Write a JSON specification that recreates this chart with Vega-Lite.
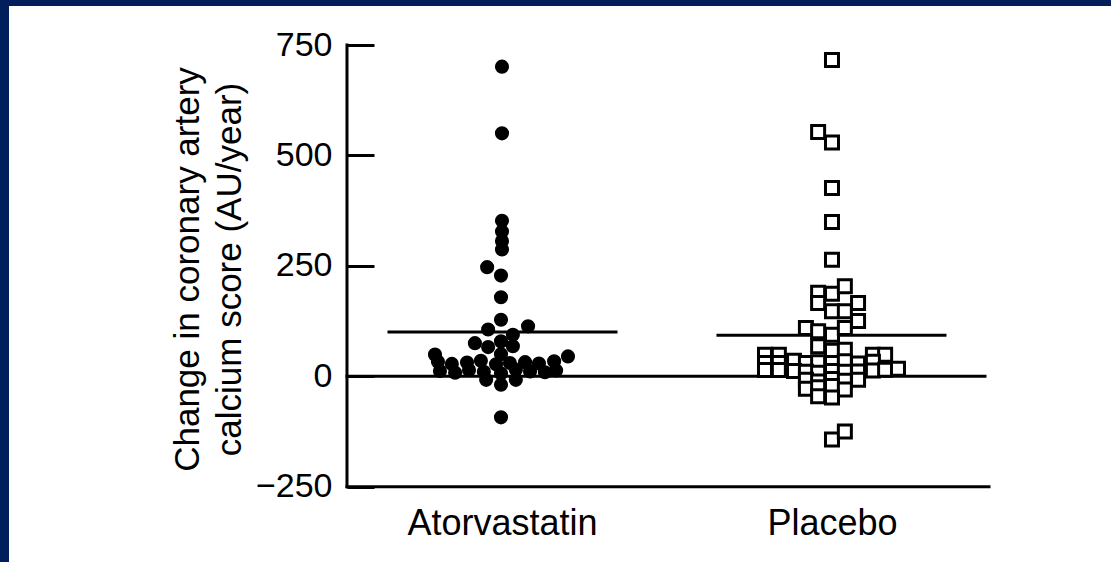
{
  "$schema": "https://vega.github.io/schema/vega-lite/v6.json",
  "width": 1102,
  "height": 556,
  "autosize": {"type": "none"},
  "padding": {"left": 9, "top": 6, "right": 0, "bottom": 0},
  "background": "#001f5b",
  "config": {"view": {"fill": "white", "stroke": null}, "font": "Liberation Sans"},
  "datasets": {
    "points": [
      {"group": "Atorvastatin", "x": 1.0, "value": 701},
      {"group": "Atorvastatin", "x": 1.0, "value": 550},
      {"group": "Atorvastatin", "x": 1.0, "value": 352},
      {"group": "Atorvastatin", "x": 1.0, "value": 328},
      {"group": "Atorvastatin", "x": 1.0, "value": 306},
      {"group": "Atorvastatin", "x": 1.0, "value": 287},
      {"group": "Atorvastatin", "x": 0.955, "value": 247},
      {"group": "Atorvastatin", "x": 0.997, "value": 228},
      {"group": "Atorvastatin", "x": 0.997, "value": 179},
      {"group": "Atorvastatin", "x": 0.997, "value": 128},
      {"group": "Atorvastatin", "x": 1.079, "value": 113},
      {"group": "Atorvastatin", "x": 0.958, "value": 106},
      {"group": "Atorvastatin", "x": 1.033, "value": 94},
      {"group": "Atorvastatin", "x": 0.918, "value": 75},
      {"group": "Atorvastatin", "x": 0.997, "value": 79},
      {"group": "Atorvastatin", "x": 0.958, "value": 66},
      {"group": "Atorvastatin", "x": 1.033, "value": 68},
      {"group": "Atorvastatin", "x": 0.997, "value": 50},
      {"group": "Atorvastatin", "x": 0.797, "value": 49},
      {"group": "Atorvastatin", "x": 1.2, "value": 45},
      {"group": "Atorvastatin", "x": 0.806, "value": 33},
      {"group": "Atorvastatin", "x": 0.848, "value": 28},
      {"group": "Atorvastatin", "x": 0.894, "value": 31},
      {"group": "Atorvastatin", "x": 0.936, "value": 35},
      {"group": "Atorvastatin", "x": 0.982, "value": 27},
      {"group": "Atorvastatin", "x": 1.024, "value": 30},
      {"group": "Atorvastatin", "x": 1.07, "value": 32},
      {"group": "Atorvastatin", "x": 1.112, "value": 29},
      {"group": "Atorvastatin", "x": 1.158, "value": 34},
      {"group": "Atorvastatin", "x": 0.812, "value": 12},
      {"group": "Atorvastatin", "x": 0.858, "value": 8},
      {"group": "Atorvastatin", "x": 0.9, "value": 14},
      {"group": "Atorvastatin", "x": 0.945, "value": 10},
      {"group": "Atorvastatin", "x": 0.997, "value": 6},
      {"group": "Atorvastatin", "x": 1.042, "value": 15},
      {"group": "Atorvastatin", "x": 1.085, "value": 11},
      {"group": "Atorvastatin", "x": 1.13, "value": 9},
      {"group": "Atorvastatin", "x": 1.164, "value": 13},
      {"group": "Atorvastatin", "x": 0.952, "value": -8},
      {"group": "Atorvastatin", "x": 1.042, "value": -8},
      {"group": "Atorvastatin", "x": 0.997, "value": -19},
      {"group": "Atorvastatin", "x": 0.997, "value": -93},
      {"group": "Placebo", "x": 2.0, "value": 716},
      {"group": "Placebo", "x": 1.958, "value": 553},
      {"group": "Placebo", "x": 2.0, "value": 529},
      {"group": "Placebo", "x": 2.0, "value": 426},
      {"group": "Placebo", "x": 2.0, "value": 349},
      {"group": "Placebo", "x": 2.0, "value": 264},
      {"group": "Placebo", "x": 1.958, "value": 189},
      {"group": "Placebo", "x": 2.0, "value": 187},
      {"group": "Placebo", "x": 2.039, "value": 204},
      {"group": "Placebo", "x": 1.958, "value": 166},
      {"group": "Placebo", "x": 2.079, "value": 166},
      {"group": "Placebo", "x": 2.0, "value": 147},
      {"group": "Placebo", "x": 2.039, "value": 147},
      {"group": "Placebo", "x": 2.079, "value": 125},
      {"group": "Placebo", "x": 1.921, "value": 109},
      {"group": "Placebo", "x": 1.958, "value": 102},
      {"group": "Placebo", "x": 2.0, "value": 94},
      {"group": "Placebo", "x": 2.039, "value": 109},
      {"group": "Placebo", "x": 1.958, "value": 68},
      {"group": "Placebo", "x": 2.0, "value": 58},
      {"group": "Placebo", "x": 2.039, "value": 60},
      {"group": "Placebo", "x": 1.797, "value": 49},
      {"group": "Placebo", "x": 1.839, "value": 49},
      {"group": "Placebo", "x": 2.124, "value": 49},
      {"group": "Placebo", "x": 2.161, "value": 49},
      {"group": "Placebo", "x": 1.797, "value": 30},
      {"group": "Placebo", "x": 1.839, "value": 30},
      {"group": "Placebo", "x": 1.885, "value": 35},
      {"group": "Placebo", "x": 1.921, "value": 30},
      {"group": "Placebo", "x": 1.958, "value": 32},
      {"group": "Placebo", "x": 2.0, "value": 30},
      {"group": "Placebo", "x": 2.039, "value": 34},
      {"group": "Placebo", "x": 2.079, "value": 29},
      {"group": "Placebo", "x": 2.124, "value": 33},
      {"group": "Placebo", "x": 1.797, "value": 14},
      {"group": "Placebo", "x": 1.839, "value": 14},
      {"group": "Placebo", "x": 1.885, "value": 12},
      {"group": "Placebo", "x": 1.921, "value": 10},
      {"group": "Placebo", "x": 1.958, "value": 8},
      {"group": "Placebo", "x": 2.0, "value": 12},
      {"group": "Placebo", "x": 2.039, "value": 10},
      {"group": "Placebo", "x": 2.079, "value": 11},
      {"group": "Placebo", "x": 2.124, "value": 13},
      {"group": "Placebo", "x": 2.161, "value": 15},
      {"group": "Placebo", "x": 2.2, "value": 17},
      {"group": "Placebo", "x": 1.921, "value": -8},
      {"group": "Placebo", "x": 1.958, "value": -12},
      {"group": "Placebo", "x": 2.0, "value": -6},
      {"group": "Placebo", "x": 2.039, "value": -10},
      {"group": "Placebo", "x": 2.079, "value": -8},
      {"group": "Placebo", "x": 1.921, "value": -28},
      {"group": "Placebo", "x": 1.958, "value": -25},
      {"group": "Placebo", "x": 2.0, "value": -22},
      {"group": "Placebo", "x": 2.039, "value": -30},
      {"group": "Placebo", "x": 1.958, "value": -45},
      {"group": "Placebo", "x": 2.0, "value": -48},
      {"group": "Placebo", "x": 2.0, "value": -143},
      {"group": "Placebo", "x": 2.039, "value": -125}
    ],
    "segments": [
      {"name": "y axis", "x": 0.5303, "x2": 0.5303, "y": -250, "y2": 750},
      {"name": "x axis", "x": 0.5303, "x2": 2.4758, "y": -250, "y2": -250},
      {"name": "zero", "x": 0.5303, "x2": 2.4636, "y": 0, "y2": 0},
      {"name": "mean Atorvastatin", "x": 0.6576, "x2": 1.3455, "y": 100, "y2": 100},
      {"name": "mean Placebo", "x": 1.6545, "x2": 2.3424, "y": 93, "y2": 93}
    ]
  },
  "layer": [
    {
      "data": {"name": "segments"},
      "mark": {"type": "rule", "strokeWidth": 3, "color": "black", "strokeCap": "square"},
      "encoding": {
        "x": {
          "field": "x", "type": "quantitative",
          "scale": {"domain": [-0.4939, 2.8455], "nice": false, "zero": false},
          "axis": {
            "orient": "bottom", "offset": -75.3, "values": [1, 2],
            "labelExpr": "datum.value == 1 ? 'Atorvastatin' : 'Placebo'",
            "domain": false, "ticks": false, "grid": false, "title": null,
            "labelFontSize": 36, "labelColor": "black", "labelBaseline": "alphabetic",
            "labelPadding": 48, "labelLimit": 0, "labelFlush": false, "labelOverlap": false, "labelBound": false
          }
        },
        "x2": {"field": "x2"},
        "y": {
          "field": "y", "type": "quantitative",
          "scale": {"domain": [-420.5, 838.3], "nice": false, "zero": false},
          "axis": {
            "orient": "left", "offset": -338, "values": [-250, 0, 250, 500, 750],
            "domain": false, "ticks": true, "tickSize": -27, "tickWidth": 3, "tickColor": "black",
            "labelPadding": 42, "labelFontSize": 34, "labelColor": "black", "grid": false,
            "labelLimit": 0, "labelFlush": false, "labelOverlap": false, "labelBound": false,
            "title": ["Change in coronary artery", "calcium score (AU/year)"],
            "titleFontSize": 35, "titleFontWeight": "normal", "titleColor": "black",
            "titleLineHeight": 42, "titleX": -142, "titleY": 263, "titleAngle": -90,
            "titleAlign": "center", "titleBaseline": "bottom", "titleLimit": 0
          }
        },
        "y2": {"field": "y2"}
      }
    },
    {
      "data": {"name": "points"},
      "transform": [{"filter": "datum.group == 'Atorvastatin'"}],
      "mark": {"type": "circle", "size": 200, "color": "black", "opacity": 1},
      "encoding": {
        "x": {"field": "x", "type": "quantitative"},
        "y": {"field": "value", "type": "quantitative"}
      }
    },
    {
      "data": {"name": "points"},
      "transform": [{"filter": "datum.group == 'Placebo'"}],
      "mark": {"type": "square", "size": 169, "fill": "white", "stroke": "black", "strokeWidth": 3, "opacity": 1},
      "encoding": {
        "x": {"field": "x", "type": "quantitative"},
        "y": {"field": "value", "type": "quantitative"}
      }
    }
  ]
}
